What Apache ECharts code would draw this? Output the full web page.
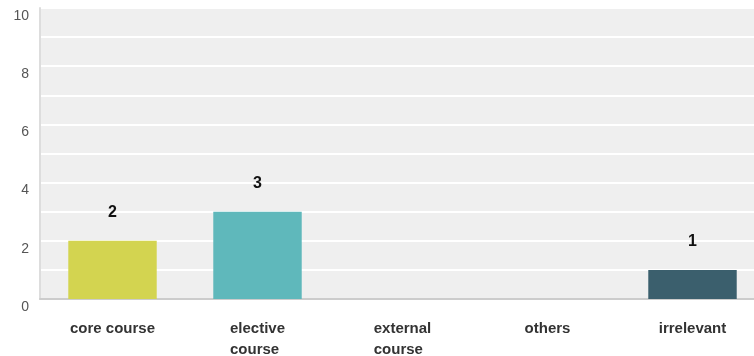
<!DOCTYPE html>
<html><head><meta charset="utf-8">
<script src="https://cdn.jsdelivr.net/npm/echarts@6/dist/echarts.min.js"></script>
<style>html,body{margin:0;padding:0;background:#fff;overflow:hidden}#c{width:754px;height:356px}</style>
</head><body><div id="c"></div>
<script>
const categories = ['core course', 'elective\ncourse', 'external\ncourse', 'others', 'irrelevant'];
const values = [2, 3, 0, 0, 1];
const barColors = ['#d3d450', '#5fb8bb', '#8cc0a0', '#a0a0a0', '#3b5f6d'];
const yTickLabels = [0, 2, 4, 6, 8, 10];

const chart = echarts.init(document.getElementById('c'));
chart.setOption({
  animation: false,
  grid: { left: 40, top: 8, bottom: 57, right: -11, outerBoundsMode: 'none', containLabel: false,
          show: true, backgroundColor: '#efefef', borderWidth: 0 },
  xAxis: {
    type: 'category', data: categories,
    axisLine: { show: true, lineStyle: { color: '#cccccc', width: 2 } },
    axisTick: { show: false },
    axisLabel: {
      margin: 19, fontFamily: 'Liberation Sans, Arial', fontWeight: 'bold', fontSize: 15, color: '#333', lineHeight: 21,
      formatter: v => v.split('\n').map(s => '{l|' + s + '}').join('\n'),
      rich: { l: { align: 'left', fontFamily: 'Liberation Sans, Arial', fontWeight: 'bold', fontSize: 15, color: '#333', lineHeight: 21 } }
    }
  },
  yAxis: {
    type: 'value', min: 0, max: 10, interval: 1,
    axisLine: { show: true, lineStyle: { color: '#dddddd', width: 2 } },
    axisTick: { show: false },
    splitLine: { show: true, lineStyle: { color: '#ffffff', width: 2 } },
    axisLabel: {
      margin: 11, fontFamily: 'Liberation Sans, Arial', fontSize: 14, color: '#555',
      verticalAlign: 'top', padding: [1, 0, 0, 0],
      formatter: v => yTickLabels.includes(v) ? String(v) : ''
    }
  },
  series: [{
    type: 'bar', barWidth: '61%',
    data: values.map((v, i) => ({ value: v, itemStyle: { color: barColors[i] }, label: { show: v > 0 } })),
    label: { position: 'top', distance: 20, fontFamily: 'Liberation Sans, Arial', fontWeight: 'bold', fontSize: 16, color: '#111' }
  }]
});
</script></body></html>
